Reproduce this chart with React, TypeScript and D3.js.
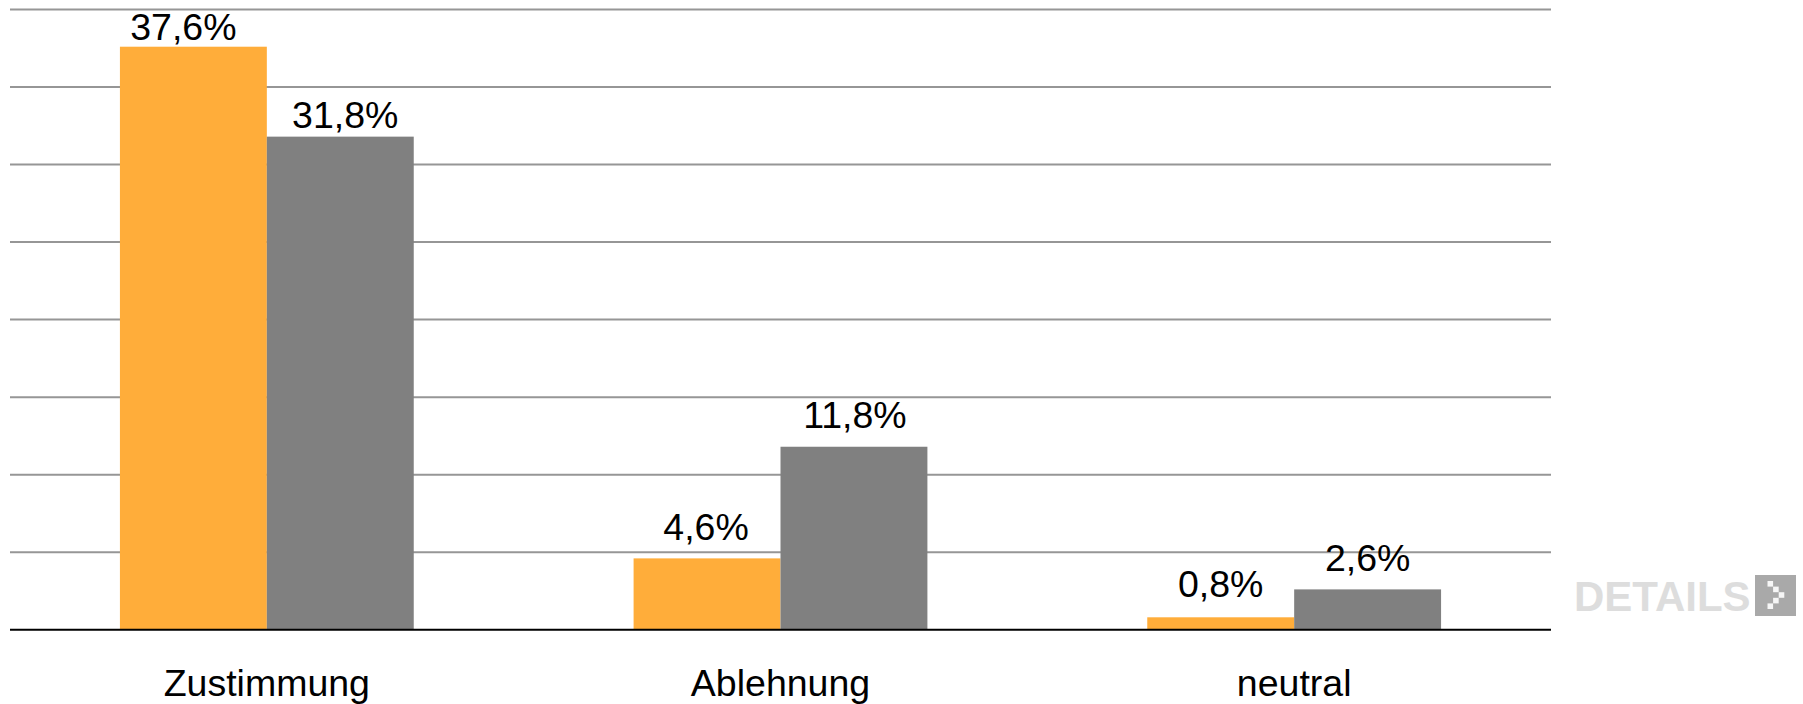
import { useEffect, useRef } from 'react';
import * as d3 from 'd3';

const categories = ['Zustimmung', 'Ablehnung', 'neutral'];
const series = ['a', 'b'];
const orangeValues = [37.6, 4.6, 0.8];
const grayValues = [31.8, 11.8, 2.6];
const gridTicks = [0, 5, 10, 15, 20, 25, 30, 35, 40];
const seriesColors = ['#ffad3a', '#808080'];

// Hand-placed data labels in the original: nudge from bar centre, lift above bar top
const labelNudge = [[-10, -1, 0], [5, 1, 0]];
const labelLift = [[7, 18, 20], [9, 19, 18]];

// Cells of the little pixel arrow in the details button
const arrowCells: [number, number][] = [[0, 0], [1, 1], [2, 2], [1, 3], [0, 4]];

const fontFamily = '"Liberation Sans", Arial, sans-serif';
const fmt = (v: number) => `${v.toFixed(1).replace('.', ',')}%`;

export default function App() {
  const svgRef = useRef<SVGSVGElement>(null);

  useEffect(() => {
    if (!svgRef.current) return;
    const svg = d3.select(svgRef.current);
    svg.selectAll('*').remove();

    const x0 = d3.scaleBand<string>().domain(categories).range([10, 1551]).paddingInner(0.428).paddingOuter(0.214);
    const x1 = d3.scaleBand<string>().domain(series).range([0, x0.bandwidth()]);
    const y = d3.scaleLinear().domain([0, 40]).range([629.7, 9.5]);

    // Grid
    svg.append('g')
      .selectAll('line')
      .data(gridTicks.filter((d) => d > 0))
      .join('line')
      .attr('x1', 10)
      .attr('x2', 1551)
      .attr('y1', (d) => y(d))
      .attr('y2', (d) => y(d))
      .attr('stroke', '#969696')
      .attr('stroke-width', 2);

    // Bars and labels
    const values = [orangeValues, grayValues];
    series.forEach((s, i) => {
      categories.forEach((c, j) => {
        const v = values[i][j];
        const bx = (x0(c) ?? 0) + (x1(s) ?? 0);
        svg.append('rect')
          .attr('x', bx)
          .attr('y', y(v))
          .attr('width', x1.bandwidth())
          .attr('height', y(0) - y(v))
          .attr('fill', seriesColors[i]);
        svg.append('text')
          .attr('x', bx + x1.bandwidth() / 2 + labelNudge[i][j])
          .attr('y', y(v) - labelLift[i][j])
          .attr('text-anchor', 'middle')
          .attr('font-size', 37.5)
          .attr('fill', '#000')
          .text(fmt(v));
      });
    });

    // Baseline
    svg.append('line')
      .attr('x1', 10)
      .attr('x2', 1551)
      .attr('y1', y(0))
      .attr('y2', y(0))
      .attr('stroke', '#000')
      .attr('stroke-width', 2);

    // Category labels
    svg.append('g')
      .selectAll('text')
      .data(categories)
      .join('text')
      .attr('x', (d) => (x0(d) ?? 0) + x0.bandwidth() / 2)
      .attr('y', 696)
      .attr('text-anchor', 'middle')
      .attr('font-size', 37.5)
      .attr('fill', '#000')
      .text((d) => d);

    // Details link
    svg.append('text')
      .attr('x', 1574)
      .attr('y', 611)
      .attr('font-size', 42)
      .attr('font-weight', 'bold')
      .attr('fill', '#dddddd')
      .text('DETAILS');
    svg.append('rect')
      .attr('x', 1755)
      .attr('y', 575)
      .attr('width', 41)
      .attr('height', 41)
      .attr('fill', '#a9a9a9');
    svg.append('g')
      .selectAll('rect')
      .data(arrowCells)
      .join('rect')
      .attr('x', (d) => 1767.5 + d[0] * 5.6)
      .attr('y', (d) => 581 + d[1] * 5.6)
      .attr('width', 5.6)
      .attr('height', 5.6)
      .attr('fill', '#f6f6f6');
  }, []);

  return (
    <svg
      ref={svgRef}
      width={1803}
      height={704}
      style={{ position: 'absolute', left: 0, top: 0, fontFamily }}
    />
  );
}
